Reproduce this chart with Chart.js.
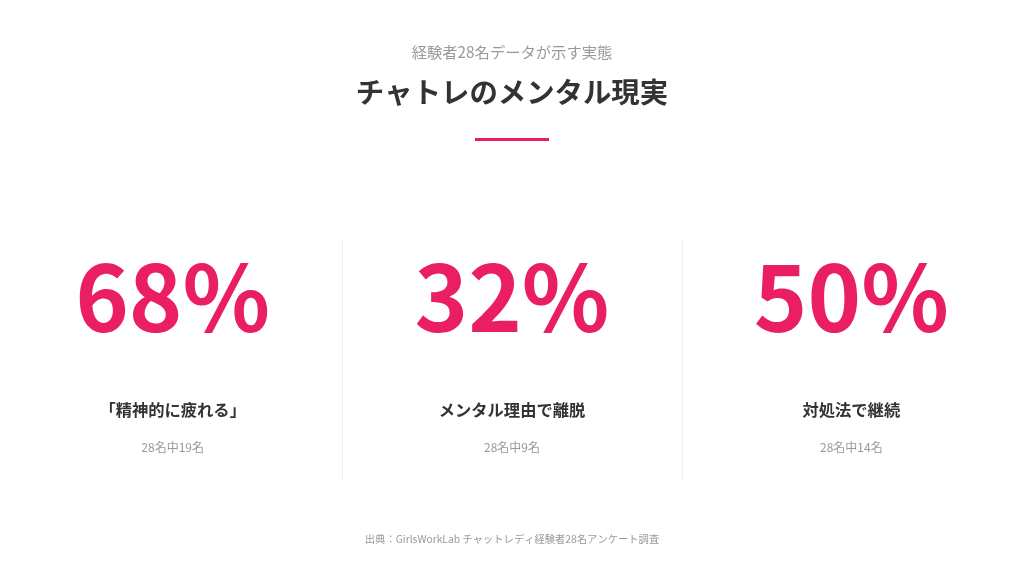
<!DOCTYPE html>
<html lang="ja">
<head>
<meta charset="utf-8">
<script src="https://cdn.jsdelivr.net/npm/chart.js@4.4.1/dist/chart.umd.min.js"></script>
<style>
  html, body { margin: 0; padding: 0; background: #ffffff; }
  #wrap { width: 1024px; height: 582px; position: relative; }
</style>
</head>
<body>
<div id="wrap"><canvas id="grafik"></canvas></div>
<script>
// data
const categories = ['「精神的に疲れる」', 'メンタル理由で離脱', '対処法で継続'];
const percents = [68, 32, 50];
const counts = [19, 9, 14];
const total = 28;

const subtitle = '経験者28名データが示す実態';
const title = 'チャトレのメンタル現実';
const source = '出典：GirlsWorkLab チャットレディ経験者28名アンケート調査';

const PINK = '#E91E63';
const FONT = '"Noto Sans CJK JP", "Noto Sans", sans-serif';

// draws the stat text for each category at the bar element's x position
const statPlugin = {
  id: 'stats',
  afterDraw(chart) {
    const ctx = chart.ctx;
    const meta = chart.getDatasetMeta(0);
    const xs = meta.data.map(el => el.x);
    ctx.save();
    ctx.textAlign = 'center';

    // header
    ctx.textBaseline = 'middle';
    ctx.fillStyle = '#999999';
    ctx.font = '400 15.3px ' + FONT;
    ctx.fillText(subtitle, chart.width / 2, 52);
    ctx.fillStyle = '#333333';
    ctx.font = '700 28.4px ' + FONT;
    ctx.fillText(title, chart.width / 2, 92);
    ctx.fillStyle = PINK;
    ctx.fillRect(chart.width / 2 - 37, 138, 74, 3);

    // separators between columns
    ctx.strokeStyle = '#eeeeee';
    ctx.lineWidth = 1;
    for (let i = 0; i < xs.length - 1; i++) {
      const sx = Math.round((xs[i] + xs[i + 1]) / 2) + 0.5;
      ctx.beginPath();
      ctx.moveTo(sx, 240);
      ctx.lineTo(sx, 480);
      ctx.stroke();
    }

    xs.forEach((x, i) => {
      ctx.textBaseline = 'alphabetic';
      ctx.fillStyle = PINK;
      ctx.font = '700 91px ' + FONT;
      ctx.fillText(percents[i] + '%', x, 332);

      ctx.textBaseline = 'middle';
      ctx.fillStyle = '#333333';
      ctx.font = '700 16.3px ' + FONT;
      ctx.fillText(categories[i], x, 410);

      ctx.fillStyle = '#999999';
      ctx.font = '400 12px ' + FONT;
      ctx.fillText(total + '名中' + counts[i] + '名', x, 447);
    });

    // footer
    ctx.fillStyle = '#999999';
    ctx.font = '400 10.3px ' + FONT;
    ctx.fillText(source, chart.width / 2, 539);
    ctx.restore();
  }
};

const ctx = document.getElementById('grafik').getContext('2d');
new Chart(ctx, {
  type: 'bar',
  data: {
    labels: categories,
    datasets: [{
      data: percents,
      backgroundColor: 'rgba(0,0,0,0)',
      borderWidth: 0
    }]
  },
  options: {
    responsive: true,
    maintainAspectRatio: false,
    animation: false,
    layout: { padding: { left: 3, right: 3, top: 0, bottom: 0 } },
    plugins: { legend: { display: false }, tooltip: { enabled: false } },
    scales: {
      x: { display: false, offset: true },
      y: { display: false, beginAtZero: true, max: 100 }
    }
  },
  plugins: [statPlugin]
});
</script>
</body>
</html>
